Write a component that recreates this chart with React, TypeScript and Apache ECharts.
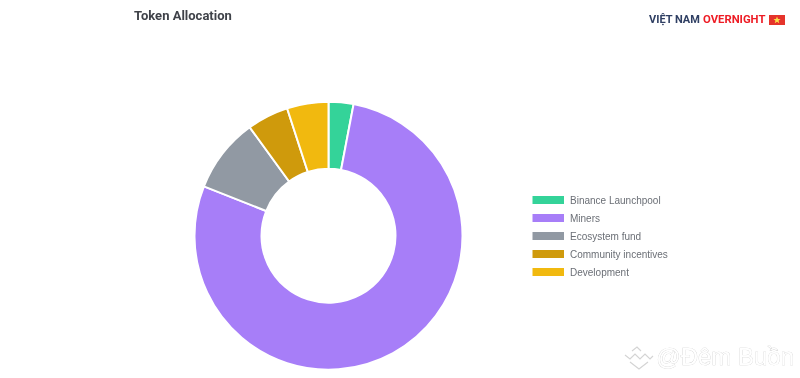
import React, { useEffect, useRef } from "react";
import * as echarts from "echarts";

const categories = ["Binance Launchpool", "Miners", "Ecosystem fund", "Community incentives", "Development"];
const values = [3, 78, 9, 5, 5];
const colors = ["#34d399", "#a77ef8", "#9199a3", "#cf9a0c", "#f1b90f"];
const titleText = "Token Allocation";
const brandLeft = "VIỆT NAM";
const brandRight = "OVERNIGHT";
const watermark = "@Đêm Buồn";

export default function App() {
  const ref = useRef<HTMLDivElement>(null);
  useEffect(() => {
    document.body.style.margin = "0";
    const chart = echarts.init(ref.current!, undefined, { renderer: "svg" });
    chart.setOption({
      animation: false,
      backgroundColor: "#ffffff",
      title: {
        text: titleText,
        left: 129,
        top: 4,
        textStyle: { fontFamily: "Roboto", fontSize: 13, fontWeight: 700, color: "#3f4249" },
      },
      legend: {
        orient: "vertical",
        left: 525.5,
        top: 189,
        icon: "rect",
        itemWidth: 33.5,
        itemHeight: 10,
        itemGap: 6,
        selectedMode: false,
        data: categories,
        textStyle: { fontFamily: "Liberation Sans", fontSize: 10, color: "#6b6f76" },
      },
      tooltip: { show: false },
      series: [
        {
          type: "pie",
          center: [328.5, 235.7],
          radius: [67, 134],
          startAngle: 90,
          clockwise: true,
          label: { show: false },
          labelLine: { show: false },
          itemStyle: { borderColor: "#ffffff", borderWidth: 2 },
          data: categories.map((name, i) => ({
            name,
            value: values[i],
            itemStyle: { color: colors[i] },
          })),
        },
      ],
      graphic: [
        {
          type: "text",
          left: 649,
          top: 14,
          style: { text: brandLeft, fontFamily: "Roboto", fontSize: 11, fontWeight: 700, fill: "#2f3f63" },
        },
        {
          type: "text",
          left: 703,
          top: 14,
          style: { text: brandRight, fontFamily: "Roboto", fontSize: 11.3, fontWeight: 700, fill: "#ee1c25" },
        },
        { type: "rect", shape: { x: 769, y: 15, width: 16, height: 10 }, style: { fill: "#e5342b" } },
        {
          type: "polygon",
          shape: {
            points: [
              [777, 16.5], [778, 19], [780.5, 19], [778.5, 20.7], [779.3, 23.3],
              [777, 21.8], [774.7, 23.3], [775.5, 20.7], [773.5, 19], [776, 19],
            ],
          },
          style: { fill: "#fbe04a" },
        },
        {
          type: "text",
          left: 656,
          top: 344,
          style: {
            text: watermark,
            fontFamily: "Liberation Sans",
            fontSize: 24,
            fill: "#ffffff",
            stroke: "#cfcfcf",
            lineWidth: 0.6,
          },
        },
        { type: "polyline", shape: { points: [[625, 355], [630, 359], [635, 354], [640, 359], [645, 354], [650, 359], [653, 356]] }, style: { fill: "none", stroke: "#d4d4d4", lineWidth: 1.2 } },
        { type: "polyline", shape: { points: [[632, 351], [637, 347], [641, 351]] }, style: { fill: "none", stroke: "#d4d4d4", lineWidth: 1.2 } },
        { type: "polyline", shape: { points: [[630, 362], [639, 369], [648, 362]] }, style: { fill: "none", stroke: "#d4d4d4", lineWidth: 1.2 } },
      ],
    });
    return () => chart.dispose();
  }, []);
  return <div ref={ref} style={{ width: 800, height: 378, filter: "blur(0.4px)" }} />;
}
